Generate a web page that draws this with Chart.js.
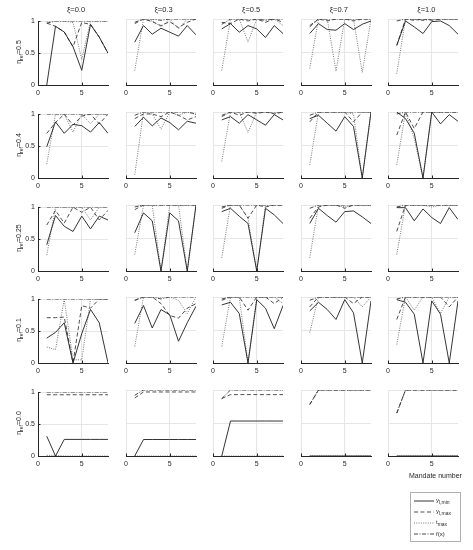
<!DOCTYPE html>
<html>
<head>
<meta charset="utf-8">
<script src="https://cdn.jsdelivr.net/npm/chart.js@4.4.1/dist/chart.umd.min.js"></script>
<style>
  body { margin: 0; background: #fff; }
  #wrap { position: relative; width: 473px; height: 550px; overflow: hidden;
          font-family: "Liberation Sans", Arial, sans-serif; color: #262626; }
  .cell { position: absolute; }
  .title { position: absolute; font-size: 7.5px; transform: translateX(-50%); white-space: nowrap; }
  .ylab { position: absolute; font-size: 7px; white-space: nowrap;
          transform: translate(-50%, -50%) rotate(-90deg); }
  .ylab sub, .leg sub { font-size: 5px; vertical-align: -2px; }
  .xlab { position: absolute; font-size: 7px; white-space: nowrap; }
  .legend { position: absolute; border: 1px solid #b0b0b0; background: #fff; padding: 2px 3px; }
  .leg { display: flex; align-items: center; height: 11px; font-size: 6px; }
  .leg svg { margin-right: 2px; }
</style>
</head>
<body>
<div id="wrap"></div>
<script>
// column / row parameters
const xiLabels = ["ξ=0.0", "ξ=0.3", "ξ=0.5", "ξ=0.7", "ξ=1.0"]
const etaLabels = ["0.5", "0.4", "0.25", "0.1", "0.0"]
const mandates = [1, 2, 3, 4, 5, 6, 7, 8]
const xTicks = [0, 5]
const yTicks = [0, 0.5, 1]

// y_l,min (solid) — [row][col][mandate]
const yMin = [
  [[0, 0.92, 0.83, 0.6, 0.23, 0.95, 0.75, 0.5],
   [0.65, 0.9, 0.77, 0.86, 0.8, 0.74, 0.9, 0.76],
   [0.85, 0.93, 0.8, 0.9, 0.85, 0.72, 0.9, 0.78],
   [0.78, 0.93, 0.84, 0.83, 0.93, 0.84, 0.92, 0.97],
   [0.6, 0.97, 0.88, 0.78, 0.96, 0.97, 0.9, 0.77]],
  [[0.49, 0.88, 0.7, 0.84, 0.82, 0.72, 0.87, 0.7],
   [0.78, 0.92, 0.79, 0.91, 0.84, 0.73, 0.86, 0.83],
   [0.88, 0.93, 0.83, 0.96, 0.88, 0.8, 0.96, 0.88],
   [0.9, 0.95, 0.83, 0.71, 0.93, 0.78, 0, 1],
   [1, 0.9, 0.68, 0, 1, 0.82, 0.96, 0.86]],
  [[0.41, 0.87, 0.7, 0.62, 0.86, 0.66, 0.86, 0.8],
   [0.58, 0.88, 0.76, 0, 0.88, 0.76, 0, 1],
   [0.9, 0.95, 0.83, 0.72, 0, 0.95, 0.85, 0.72],
   [0.72, 0.95, 0.84, 0.74, 0.9, 0.91, 0.82, 0.72],
   [0.96, 0.96, 0.76, 0.94, 0.81, 0.72, 0.96, 0.78]],
  [[0.39, 0.48, 0.63, 0, 0.46, 0.84, 0.63, 0],
   [0.6, 0.87, 0.53, 0.81, 0.73, 0.33, 0.61, 0.86],
   [0.88, 0.92, 0.75, 0, 0.96, 0.83, 0.52, 0.87],
   [0.79, 0.92, 0.81, 0.66, 0.96, 0.76, 0, 0.94],
   [0.96, 0.92, 0.74, 0, 0.94, 0.74, 0, 0.94]],
  [[0.31, 0, 0.26, 0.26, 0.26, 0.26, 0.26, 0.26],
   [0, 0.25, 0.25, 0.25, 0.25, 0.25, 0.25, 0.25],
   [0, 0.53, 0.53, 0.53, 0.53, 0.53, 0.53, 0.53],
   [0, 0, 0, 0, 0, 0, 0, 0],
   [0, 0, 0, 0, 0, 0, 0, 0]]
]

// y_l,max (dashed)
const yMax = [
  [[0.97, 0.92, 0.83, 0.6, 0.98, 0.95, 0.75, 0.5],
   [0.93, 1, 0.96, 0.9, 0.96, 0.87, 0.95, 1],
   [0.95, 0.93, 1, 0.97, 1, 0.95, 1, 0.95],
   [0.88, 1, 0.97, 1, 1, 0.97, 1, 1],
   [0.6, 1, 0.98, 1, 0.98, 1, 1, 1]],
  [[0.7, 0.87, 1, 0.83, 0.97, 1, 0.85, 1],
   [0.9, 0.97, 0.97, 0.93, 1, 0.95, 0.88, 0.93],
   [0.95, 1, 0.95, 1, 0.98, 1, 0.97, 1],
   [0.85, 1, 1, 1, 1, 0.85, 1, 1],
   [0.65, 1, 0.75, 1, 1, 1, 1, 1]],
  [[0.72, 0.95, 0.75, 1, 0.92, 1, 0.8, 0.95],
   [0.93, 1, 1, 1, 1, 1, 1, 1],
   [0.95, 1, 1, 0.8, 1, 0.97, 1, 1],
   [0.8, 0.97, 1, 1, 0.95, 1, 1, 1],
   [0.6, 1, 1, 1, 1, 1, 1, 1]],
  [[0.71, 0.71, 0.72, 0, 0.9, 0.86, 1, 1],
   [0.95, 1, 1, 0.9, 0.72, 0.68, 0.83, 0.9],
   [0.95, 1, 1, 0.8, 1, 1, 0.9, 1],
   [0.85, 1, 1, 1, 1, 0.9, 1, 1],
   [0.66, 1, 1, 1, 1, 1, 0.85, 1]],
  [[0.96, 0.96, 0.96, 0.96, 0.96, 0.96, 0.96, 0.96],
   [0.88, 0.97, 0.97, 0.97, 0.97, 0.97, 0.97, 0.97],
   [0.87, 0.93, 0.93, 0.93, 0.93, 0.93, 0.93, 0.93],
   [0.78, 1, 1, 1, 1, 1, 1, 1],
   [0.65, 1, 1, 1, 1, 1, 1, 1]]
]

// t_max (dotted)
const tMax = [
  [[1, 1, 1, 0.98, 0.4, 1, 1, 1],
   [0.22, 1, 0.97, 0.88, 1, 0.85, 1, 1],
   [0.22, 1, 1, 0.65, 1, 1, 1, 0.9],
   [0.25, 1, 1, 0.21, 1, 1, 0.19, 1],
   [0.17, 1, 1, 1, 1, 1, 1, 1]],
  [[0.22, 1, 1, 0.72, 1, 0.85, 1, 1],
   [0.05, 1, 0.97, 0.74, 1, 0.95, 1, 0.96],
   [0.25, 1, 1, 0.69, 1, 1, 0.98, 1],
   [0.2, 1, 1, 1, 1, 0.97, 0, 1],
   [0.2, 1, 0.6, 0, 1, 1, 1, 1]],
  [[0.25, 1, 1, 1, 1, 0.8, 1, 1],
   [0.25, 1, 1, 0, 1, 1, 0, 1],
   [0.2, 1, 1, 0.8, 0, 1, 1, 1],
   [0.2, 1, 1, 1, 0.97, 1, 1, 1],
   [0.25, 1, 1, 1, 0.97, 1, 1, 1]],
  [[0.25, 0.21, 1, 0.05, 0.05, 1, 1, 1],
   [0.25, 1, 1, 1, 1, 0.95, 0.75, 1],
   [0.25, 1, 1, 0, 1, 1, 1, 0.9],
   [0.46, 1, 1, 1, 1, 1, 0.85, 1],
   [0.28, 1, 0.8, 1, 1, 0.75, 1, 1]],
  [[0.01, 0.01, 0, 0, 0, 0, 0, 0],
   [0, 0, 0, 0, 0, 0, 0, 0],
   [0, 0, 0, 0, 0, 0, 0, 0],
   [0, 0, 0, 0, 0, 0, 0, 0],
   [0, 0, 0, 0, 0, 0, 0, 0]]
]

// f(x) (dash-dot)
const fX = [
  [[0.97, 1, 1, 1, 1, 1, 1, 1],
   [0.95, 1, 1, 0.98, 1, 1, 1, 1],
   [0.92, 1, 1, 1, 1, 0.98, 1, 1],
   [0.9, 1, 1, 1, 1, 1, 1, 1],
   [0.97, 1, 1, 0.98, 1, 1, 1, 1]],
  [[1, 1, 1, 1, 1, 1, 1, 1],
   [0.95, 1, 1, 1, 1, 1, 1, 0.97],
   [0.93, 1, 1, 1, 1, 1, 1, 1],
   [0.95, 1, 1, 1, 1, 1, 1, 1],
   [0.97, 1, 1, 1, 1, 1, 1, 1]],
  [[1, 1, 1, 1, 1, 1, 1, 1],
   [0.97, 1, 1, 1, 1, 1, 1, 1],
   [0.97, 1, 1, 1, 1, 1, 1, 1],
   [0.95, 1, 1, 1, 1, 1, 1, 1],
   [0.97, 1, 1, 1, 1, 1, 1, 1]],
  [[1, 1, 1, 1, 1, 1, 1, 1],
   [0.95, 1, 1, 0.97, 1, 1, 1, 1],
   [0.97, 1, 1, 1, 1, 1, 1, 1],
   [0.95, 1, 1, 1, 1, 1, 1, 1],
   [0.97, 1, 1, 1, 1, 1, 1, 1]],
  [[1, 1, 1, 1, 1, 1, 1, 1],
   [0.92, 1, 1, 1, 1, 1, 1, 1],
   [0.87, 1, 1, 1, 1, 1, 1, 1],
   [0.78, 1, 1, 1, 1, 1, 1, 1],
   [0.65, 1, 1, 1, 1, 1, 1, 1]]
]

const styles = [
  { label: "y_l,min", color: "#1e1e1e", dash: [] },
  { label: "y_l,max", color: "#3a3a3a", dash: [4, 2.5] },
  { label: "t_max", color: "#6a6a6a", dash: [1, 1.3] },
  { label: "f(x)", color: "#333", dash: [4, 1.5, 1, 1.5] },
]

const wrap = document.getElementById("wrap")
const PAD_L = 20, PAD_T = 5, PAD_R = 4, PAD_B = 16
const PLOT_W = 70, PLOT_H = 66
const X0 = 38, Y0 = 19, DX = 87.6, DY = 92.8
const axisColor = "#262626", gridColor = "#e6e6e6"

// MATLAB-like inward tick marks
const inwardTicks = {
  id: "inwardTicks",
  afterDraw(chart, args, opts) {
    const { ctx, chartArea, scales } = chart
    ctx.save()
    ctx.strokeStyle = axisColor
    ctx.lineWidth = 1
    ctx.beginPath()
    scales.x.ticks.forEach((t) => {
      const px = Math.round(scales.x.getPixelForValue(t.value)) + 0.5
      ctx.moveTo(px, chartArea.bottom)
      ctx.lineTo(px, chartArea.bottom - 2.5)
    })
    if (opts.left) {
      scales.y.ticks.forEach((t) => {
        const py = Math.round(scales.y.getPixelForValue(t.value)) + 0.5
        ctx.moveTo(chartArea.left, py)
        ctx.lineTo(chartArea.left + 2.5, py)
      })
    }
    ctx.stroke()
    ctx.restore()
  },
}

const series = [yMin, yMax, tMax, fX]

for (let r = 0; r < 5; r++) {
  for (let c = 0; c < 5; c++) {
    const left = Math.round(X0 + c * DX) - PAD_L
    const top = Math.round(Y0 + r * DY) - PAD_T
    const div = document.createElement("div")
    div.className = "cell"
    div.style.left = left + "px"
    div.style.top = top + "px"
    div.style.width = PAD_L + PLOT_W + PAD_R + "px"
    div.style.height = PAD_T + PLOT_H + PAD_B + "px"
    const canvas = document.createElement("canvas")
    div.appendChild(canvas)
    wrap.appendChild(div)

    const first = c === 0
    new Chart(canvas, {
      type: "line",
      data: {
        labels: mandates,
        datasets: series.map((s, i) => ({
          label: styles[i].label,
          data: mandates.map((m, k) => ({ x: m, y: s[r][c][k] })),
          borderColor: styles[i].color,
          borderDash: styles[i].dash,
          borderWidth: 0.9,
          pointRadius: 0,
          tension: 0,
          fill: false,
        })),
      },
      options: {
        responsive: true,
        maintainAspectRatio: false,
        animation: false,
        events: [],
        layout: { autoPadding: false, padding: { left: 0, top: PAD_T, right: PAD_R, bottom: 0 } },
        plugins: {
          legend: { display: false },
          tooltip: { enabled: false },
          inwardTicks: { left: first },
        },
        scales: {
          x: {
            type: "linear",
            min: 0,
            max: 8,
            afterBuildTicks: (s) => { s.ticks = xTicks.map((v) => ({ value: v })) },
            afterFit: (s) => { s.height = PAD_B },
            grid: { color: gridColor, drawTicks: false, lineWidth: 1 },
            border: { display: true, color: axisColor, width: 1 },
            ticks: { padding: 4, color: axisColor, font: { family: "Liberation Sans", size: 7 }, maxRotation: 0 },
          },
          y: {
            min: 0,
            max: 1,
            afterBuildTicks: (s) => { s.ticks = yTicks.map((v) => ({ value: v })) },
            afterFit: (s) => { s.width = PAD_L },
            grid: { color: gridColor, drawTicks: false, lineWidth: 1 },
            border: { display: first, color: axisColor, width: 1 },
            ticks: {
              display: first,
              padding: 3,
              color: axisColor,
              font: { family: "Liberation Sans", size: 7 },
              callback: (v) => String(v),
            },
          },
        },
      },
      plugins: [inwardTicks],
    })
  }
}

// column titles
xiLabels.forEach((t, c) => {
  const d = document.createElement("div")
  d.className = "title"
  d.textContent = t
  d.style.left = X0 + c * DX + PLOT_W / 2 + 3 + "px"
  d.style.top = "5px"
  wrap.appendChild(d)
})

// row labels
etaLabels.forEach((t, r) => {
  const d = document.createElement("div")
  d.className = "ylab"
  d.innerHTML = "η<sub>ref</sub>=" + t
  d.style.left = "19px"
  d.style.top = Y0 + r * DY + PLOT_H / 2 + "px"
  wrap.appendChild(d)
})

// x axis label
const xl = document.createElement("div")
xl.className = "xlab"
xl.textContent = "Mandate number"
xl.style.left = "409px"
xl.style.top = "472px"
wrap.appendChild(xl)

// legend
const legendHtml = [
  "y<sub>l,min</sub>", "y<sub>l,max</sub>", "t<sub>max</sub>", "f(x)",
]
const lg = document.createElement("div")
lg.className = "legend"
lg.style.left = "410px"
lg.style.top = "492px"
lg.style.width = "43px"
styles.forEach((s, i) => {
  const row = document.createElement("div")
  row.className = "leg"
  row.innerHTML =
    '<svg width="20" height="4"><line x1="0" y1="2" x2="20" y2="2" stroke="' + s.color +
    '" stroke-width="0.9" stroke-dasharray="' + (s.dash.length ? s.dash.join(" ") : "none") +
    '"/></svg><span>' + legendHtml[i] + "</span>"
  lg.appendChild(row)
})
wrap.appendChild(lg)
</script>
</body>
</html>
